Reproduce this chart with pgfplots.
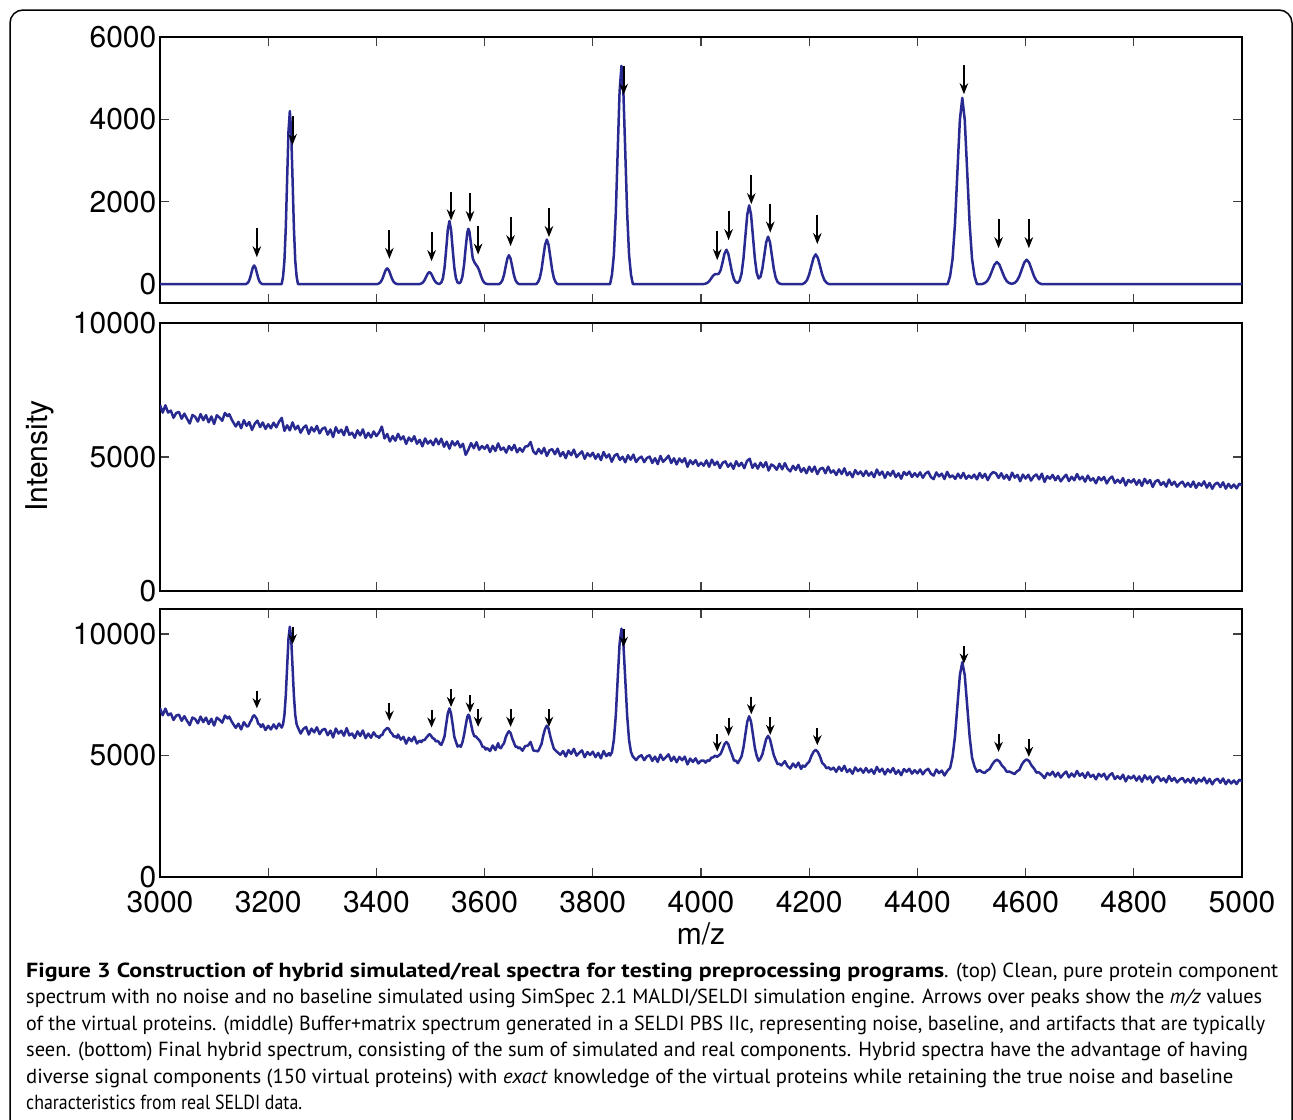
\documentclass[border=0pt]{standalone}
\usepackage{fontspec}
\setmainfont{TeX Gyre Heros}
\newfontfamily\capfont{PT Sans}
\usepackage{pgfplots}
\pgfplotsset{compat=1.18}
\usetikzlibrary{arrows.meta}

\definecolor{specblue}{RGB}{40,42,145}

\pgfplotsset{
  spec/.style={
    scale only axis, width=1082pt, anchor=north west,
    xmin=3000, xmax=5000, xtick={3000,3200,...,5000},
    axis line style={line width=1.8pt},
    every tick/.style={line width=1.2pt, black!75},
    major tick length=9pt,
    tick label style={font=\fontsize{30}{30}\selectfont, inner sep=1pt},
    yticklabel style={xshift=-2.5pt},
    /pgf/number format/assume math mode=true,
    /pgf/number format/1000 sep={},
    scaled y ticks=false,
  },
  trace/.style={specblue, line width=2.5pt, line join=round, mark=none},
}

\begin{document}
\begin{tikzpicture}
\useasboundingbox (0,0) rectangle (1293pt,-1119pt);
\begin{scope}
\clip (0,0) rectangle (1293pt,-1119pt);
\draw[line width=1.5pt, rounded corners=13pt] (10pt,-10pt) rectangle (1292pt,-1160pt);
\end{scope}

% ---- top: simulated protein spectrum
\begin{axis}[spec, at={(160pt,-37pt)}, height=266pt,
  ymin=-461, ymax=6000, ytick={0,2000,4000,6000}, xticklabel=\empty]
\addplot[trace] coordinates {
(3000,0) (3159,0) (3161.5,20) (3164,61) (3166.5,146) (3169,273) (3171.5,397) (3174,450) (3176.5,397) (3179,273) (3181.5,146) (3184,61) (3186.5,20) (3189,0)
(3225,0) (3227.5,184) (3230,568) (3232.5,1364) (3235,2547) (3237.5,3707) (3240,4200) (3242.5,3707) (3245,2547) (3247.5,1364) (3250,568) (3252.5,184) (3255,0)
(3402,0) (3405,17) (3408,51) (3411,123) (3414,230) (3417,335) (3420,380) (3423,335) (3426,230) (3429,123) (3432,51) (3435,17) (3438,0)
(3480,0) (3483,13) (3486,39) (3489,94) (3492,176) (3495,256) (3498,290) (3501,256) (3504,176) (3507,94) (3510,39) (3513,13) (3516,3)
(3517,7) (3520,37) (3523,142) (3526,401) (3529,844) (3532,1319) (3535,1530) (3538,1319) (3541,844) (3544,401) (3547,142) (3550,37) (3553,18) (3556,53) (3559,180) (3562,462) (3565,880) (3568,1250) (3570,1341) (3572,1273) (3575,956) (3578,632) (3581,530) (3584,470) (3587,417) (3590,332) (3593,209) (3596,103) (3599,39) (3602,11) (3605,0)
(3627,0) (3630,31) (3633,95) (3636,227) (3639,425) (3642,618) (3645,700) (3648,618) (3651,425) (3654,227) (3657,95) (3660,31) (3663,0)
(3695.5,0) (3698.75,47) (3702,146) (3705.25,351) (3708.5,655) (3711.75,953) (3715,1080) (3718.25,953) (3721.5,655) (3724.75,351) (3728,146) (3731.25,47) (3734.5,0)
(3832,0) (3835.5,233) (3839,717) (3842.5,1721) (3846,3214) (3849.5,4677) (3853,5300) (3856.5,4677) (3860,3214) (3863.5,1721) (3867,717) (3870.5,233) (3874,0)
(4005,0) (4008.5,10) (4012,31) (4015.5,75) (4019,139) (4022.5,205) (4026,239) (4029.5,239) (4033,251) (4036.5,345) (4040,534) (4043.5,742) (4047,833) (4050.5,732) (4054,503) (4057.5,270) (4061,113) (4064.5,40) (4068,30) (4071.5,86) (4075,258) (4078.5,620) (4082,1158) (4085.5,1686) (4089,1910) (4092.5,1686) (4096,1158) (4099.5,623) (4103,271) (4106.5,134) (4110,177) (4113.5,377) (4117,698) (4120.5,1015) (4124,1150) (4127.5,1015) (4131,697) (4134.5,373) (4138,156) (4141.5,50) (4145,13) (4148.5,0)
(4188,0) (4192,32) (4196,97) (4200,234) (4204,437) (4208,635) (4212,720) (4216,635) (4220,437) (4224,234) (4228,97) (4232,32) (4236,0)
(4456,0) (4460.5,198) (4465,612) (4469.5,1468) (4474,2741) (4478.5,3989) (4483,4520) (4487.5,3989) (4492,2741) (4496.5,1468) (4501,612) (4505.5,198) (4510,0)
(4520,0) (4524.5,23) (4529,72) (4533.5,174) (4538,324) (4542.5,472) (4547,535) (4551.5,472) (4556,324) (4560.5,174) (4565,72) (4569.5,23) (4574,6)
(4575,7) (4579.5,26) (4584,80) (4588.5,192) (4593,358) (4597.5,521) (4602,590) (4606.5,521) (4611,358) (4615.5,192) (4620,80) (4624.5,26) (4629,0) (5000,0)
};
% arrows over the virtual proteins
\addplot[black, line width=2pt, -{Stealth[length=11pt,width=8.5pt]},
  quiver={u=\thisrow{u}, v=\thisrow{v}}] table {
x y u v
3179 1350 0 -700
3245 4075 0 -700
3424 1310 0 -700
3502 1255 0 -700
3538 2245 0 -700
3573 2205 0 -700
3588 1415 0 -700
3648 1620 0 -700
3719 1840 0 -700
3857 5295 0 -700
4030 1280 0 -700
4051 1765 0 -700
4093 2640 0 -700
4128 1950 0 -700
4215 1670 0 -700
4486 5310 0 -700
4550 1570 0 -700
4606 1570 0 -700
};
\end{axis}

% ---- middle: buffer + matrix spectrum
\begin{axis}[spec, at={(160pt,-323pt)}, height=268pt,
  ymin=0, ymax=10000, ytick={0,5000,10000}, xticklabel=\empty]
\addplot[trace] coordinates {
(3000,6944) (3005,6657) (3010,6928) (3015,6659) (3020,6732) (3025,6463) (3030,6644) (3035,6681) (3040,6430)
(3045,6618) (3050,6428) (3055,6251) (3060,6565) (3065,6501) (3070,6324) (3075,6602) (3080,6376)
(3085,6561) (3090,6296) (3095,6512) (3100,6234) (3105,6558) (3110,6473) (3115,6352) (3120,6645) (3125,6524) (3128,6600) (3133,6380)
(3140,6139) (3145,6312) (3150,6073) (3155,6374) (3160,6166) (3165,6305) (3170,6012) (3175,6236) (3180,6357) (3185,6118) (3190,6288) (3195,6049) (3200,6224)
(3205,6072) (3210,6279) (3215,6109) (3220,6316) (3225,6458) (3230,5975) (3235,6183) (3240,5994) (3245,6292) (3250,6031) (3255,6167) (3260,5906) (3265,6096) (3270,6177) (3275,5863) (3280,6106) (3285,5954) (3290,6161) (3295,5883) (3300,6054)
(3305,6098) (3310,5836) (3315,6024) (3320,5744) (3325,6112) (3330,5904) (3335,6020) (3340,5812) (3345,6126) (3350,5828) (3355,5908) (3360,5718) (3365,5996) (3370,5806) (3375,6030) (3380,5714) (3385,5902) (3390,5730) (3395,5954) (3400,5782)
(3405,5914) (3410,6136) (3415,5692) (3420,5860) (3425,5578) (3430,5782) (3435,5608) (3440,5866) (3445,5656) (3450,5770) (3455,5488) (3460,5728) (3465,5590) (3470,5776) (3475,5494) (3480,5644) (3485,5398) (3490,5692) (3495,5500) (3500,5614)
(3505,5442) (3510,5684) (3515,5476) (3520,5682) (3525,5384) (3530,5572) (3535,5310) (3540,5588) (3545,5434) (3550,5586) (3555,5360) (3560,5494) (3565,5080) (3570,5276) (3575,5518) (3580,5328) (3585,5552) (3590,5272) (3595,5406) (3600,5306)
(3605,5444) (3610,5185) (3615,5413) (3620,5226) (3625,5508) (3630,5267) (3635,5351) (3640,5164) (3645,5410) (3650,5259) (3655,5451) (3660,5174) (3665,5330) (3670,5197) (3675,5389) (3680,5406) (3685,5560) (3690,5207) (3695,5111) (3700,5302)
(3705,5131) (3710,5338) (3715,5041) (3720,5248) (3725,5293) (3730,5104) (3735,5311) (3740,5032) (3745,5185) (3750,4960) (3755,5221) (3760,5068) (3765,5275) (3770,4996) (3775,5113) (3780,5212) (3785,4933) (3790,5140) (3795,5023) (3800,5158)
(3805,4935) (3810,5108) (3815,4885) (3820,5184) (3825,4979) (3830,5098) (3835,4821) (3840,5048) (3845,5113) (3850,4890) (3855,5009) (3860,4804) (3865,5067) (3870,4898) (3875,5089) (3880,4812) (3885,4949) (3890,5014) (3895,4809) (3900,4964)
(3905,5015) (3910,4778) (3915,4955) (3920,4736) (3925,5039) (3930,4820) (3935,4925) (3940,5048) (3945,4775) (3950,4952) (3955,4723) (3960,4944) (3965,4805) (3970,4954) (3975,4635) (3980,4874) (3985,4735) (3990,4884) (3995,4673) (4000,4786)
(4005,4676) (4010,4871) (4015,4635) (4020,4902) (4025,4702) (4030,4825) (4035,4589) (4040,4784) (4045,4836) (4050,4635) (4055,4759) (4060,4558) (4065,4844) (4070,4661) (4075,4785) (4080,4584) (4085,4852) (4090,4935) (4095,4595) (4100,4754)
(4105,4566) (4110,4791) (4115,4621) (4120,4810) (4125,4496) (4130,4721) (4135,4659) (4140,4524) (4145,4750) (4150,4543) (4155,4769) (4160,4562) (4165,4464) (4170,4671) (4175,4519) (4180,4708) (4185,4448) (4190,4583) (4195,4395) (4200,4638)
(4205,4451) (4210,4641) (4215,4364) (4220,4554) (4225,4601) (4230,4395) (4235,4640) (4240,4416) (4245,4499) (4250,4329) (4255,4538) (4260,4368) (4265,4577) (4270,4317) (4275,4436) (4280,4248) (4285,4511) (4290,4359) (4295,4460) (4300,4290)
(4305,4486) (4310,4304) (4315,4428) (4320,4246) (4325,4532) (4330,4332) (4335,4456) (4340,4220) (4345,4434) (4350,4306) (4355,4484) (4360,4248) (4365,4390) (4370,4190) (4375,4440) (4380,4330) (4385,4454) (4390,4254) (4395,4396) (4400,4268)
(4405,4427) (4410,4225) (4415,4384) (4420,4452) (4425,4251) (4430,4175) (4435,4424) (4440,4276) (4445,4381) (4450,4179) (4455,4446) (4460,4244) (4465,4313) (4470,4183) (4475,4378) (4480,4212) (4485,4407) (4490,4187) (4495,4310) (4500,4216)
(4505,4344) (4510,4166) (4515,4402) (4520,4224) (4525,4370) (4530,4138) (4535,4338) (4540,4436) (4545,4396) (4550,4218)
(4555,4394) (4560,4192) (4565,4332) (4570,4148) (4575,4414) (4580,4230) (4585,4334) (4590,4096) (4595,4344) (4600,4196)
(4605,4338) (4610,4119) (4615,4279) (4620,4348) (4625,4166) (4630,4379) (4635,4071) (4640,4284) (4645,4192) (4650,4333) (4655,4133) (4660,4292) (4665,4092) (4670,4233) (4675,4339) (4680,4102) (4685,4262) (4690,4133) (4695,4365) (4700,4164)
(4705,4266) (4710,4080) (4715,4308) (4720,4122) (4725,4206) (4730,4020) (4735,4248) (4740,4134) (4745,4254) (4750,4014) (4755,4188) (4760,4272) (4765,4032) (4770,4152) (4775,4038) (4780,4212) (4785,3936) (4790,4146) (4795,4050) (4800,4170)
(4805,3967) (4810,4142) (4815,3921) (4820,4186) (4825,4019) (4830,4140) (4835,3883) (4840,4094) (4845,4143) (4850,3958) (4855,4061) (4860,3894) (4865,4159) (4870,3956) (4875,4077) (4880,3892) (4885,4013) (4890,4080) (4895,3895) (4900,4034)
(4905,3888) (4910,4083) (4915,3847) (4920,4024) (4925,3932) (4930,4091) (4935,3855) (4940,4032) (4945,3814) (4950,3991) (4955,4043) (4960,3878) (4965,4056) (4970,3819) (4975,3997) (4980,3850) (4985,3974) (4990,3827) (4995,4005) (5000,3948)
};
\end{axis}

% ---- bottom: hybrid spectrum
\begin{axis}[spec, at={(160pt,-609pt)}, height=268pt,
  ymin=0, ymax=11030, ytick={0,5000,10000},
  xticklabel style={yshift=-13.5pt}]
\addplot[trace] coordinates {
(3000,6944) (3005,6657) (3010,6928) (3015,6659) (3020,6732) (3025,6463) (3030,6644) (3035,6681) (3040,6430)
(3045,6618) (3050,6428) (3055,6251) (3060,6565) (3065,6501) (3070,6324) (3075,6602) (3080,6376)
(3085,6561) (3090,6296) (3095,6512) (3100,6234) (3105,6558) (3110,6473) (3115,6352) (3120,6645) (3125,6524) (3128,6600) (3133,6380)
(3140,6139) (3145,6312) (3150,6073) (3155,6374)
(3159,6240) (3161.5,6190) (3164,6235) (3166.5,6370) (3169,6457) (3171.5,6601) (3174,6654) (3176.5,6591) (3179,6507) (3181.5,6310) (3184,6285) (3186.5,6174) (3189,6229)
(3190,6288) (3195,6049) (3200,6224) (3205,6072) (3210,6279) (3215,6109) (3220,6316)
(3225,6150) (3227.5,6290) (3230,6670) (3232.5,7466) (3235,8649) (3237.5,9809) (3240,10302) (3242.5,9809) (3245,8649) (3247.5,7466) (3250,6670) (3252.5,6286) (3255,6149)
(3260,5906) (3265,6096) (3270,6177) (3275,5863) (3280,6106) (3285,5954) (3290,6161) (3295,5883) (3300,6054)
(3305,6098) (3310,5836) (3315,6024) (3320,5744) (3325,6112) (3330,5904) (3335,6020) (3340,5812) (3345,6126) (3350,5828) (3355,5908) (3360,5718) (3365,5996) (3370,5806) (3375,6030) (3380,5714) (3385,5902) (3390,5730) (3395,5954) (3400,5782)
(3402,5800) (3405,5730) (3408,5830) (3411,5850) (3414,6010) (3417,6070) (3420,6132) (3423,6100) (3426,5960) (3429,5900) (3432,5780) (3435,5790) (3438,5730)
(3440,5866) (3445,5656) (3450,5770) (3455,5488) (3460,5728) (3465,5590) (3470,5776) (3475,5494)
(3480,5613) (3483,5553) (3486,5639) (3489,5634) (3492,5726) (3495,5806) (3498,5880) (3501,5816) (3504,5716) (3507,5684) (3510,5579) (3513,5603) (3516,5543)
(3517,5483) (3520,5437) (3523,5596) (3526,5799) (3529,6286) (3532,6735) (3535,6940) (3538,6723) (3541,6272) (3544,5773) (3547,5568) (3550,5367) (3553,5422) (3556,5361) (3559,5542) (3562,5838) (3565,6230) (3568,6594) (3570,6681) (3572,6609) (3575,6286) (3578,5976) (3581,5789) (3584,5784) (3587,5703) (3590,5632) (3593,5533) (3596,5361) (3599,5361) (3602,5247) (3605,5303)
(3610,5185) (3615,5413) (3620,5226) (3625,5508)
(3627,5340) (3630,5300) (3633,5420) (3636,5510) (3639,5750) (3642,5900) (3645,6002) (3648,5930) (3651,5710) (3654,5540) (3657,5370) (3660,5360) (3663,5290)
(3665,5330) (3670,5197) (3675,5389) (3680,5406) (3685,5560) (3690,5207)
(3695.5,5190) (3698.75,5170) (3702,5320) (3705.25,5480) (3708.5,5830) (3711.75,6090) (3715,6230) (3718.25,6110) (3721.5,5790) (3724.75,5520) (3728,5280) (3731.25,5210) (3734.5,5140)
(3740,5032) (3745,5185) (3750,4960) (3755,5221) (3760,5068) (3765,5275) (3770,4996) (3775,5113) (3780,5212) (3785,4933) (3790,5140) (3795,5023) (3800,5158)
(3805,4935) (3810,5108) (3815,4885) (3820,5184) (3825,4979) (3830,5098)
(3832,5000) (3835.5,5140) (3839,5660) (3842.5,6640) (3846,8150) (3849.5,9600) (3853,10220) (3856.5,9610) (3860,8140) (3863.5,6640) (3867,5640) (3870.5,5150) (3874,4960)
(3880,4812) (3885,4949) (3890,5014) (3895,4809) (3900,4964)
(3905,5015) (3910,4778) (3915,4955) (3920,4736) (3925,5039) (3930,4820) (3935,4925) (3940,5048) (3945,4775) (3950,4952) (3955,4723) (3960,4944) (3965,4805) (3970,4954) (3975,4635) (3980,4874) (3985,4735) (3990,4884) (3995,4673) (4000,4786)
(4005,4791) (4008.5,4706) (4012,4805) (4015.5,4777) (4019,4910) (4022.5,4924) (4026,4996) (4029.5,4944) (4033,5005) (4036.5,5077) (4040,5264) (4043.5,5470) (4047,5560) (4050.5,5457) (4054,5226) (4057.5,5021) (4061,4793) (4064.5,4788) (4068,4686) (4071.5,4820) (4075,4971) (4078.5,5331) (4082,5867) (4085.5,6393) (4089,6616) (4092.5,6390) (4096,5860) (4099.5,5323) (4103,4986) (4106.5,4783) (4110,4880) (4113.5,5054) (4117,5369) (4120.5,5680) (4124,5809) (4127.5,5668) (4131,5344) (4134.5,5014) (4138,4821) (4141.5,4649) (4145,4657) (4148.5,4591)
(4155,4769) (4160,4562) (4165,4464) (4170,4671) (4175,4519) (4180,4708) (4185,4448)
(4188,4586) (4192,4534) (4196,4663) (4200,4744) (4204,4981) (4208,5153) (4212,5232) (4216,5141) (4220,4957) (4224,4698) (4228,4615) (4232,4474) (4236,4514)
(4240,4416) (4245,4499) (4250,4329) (4255,4538) (4260,4368) (4265,4577) (4270,4317) (4275,4436) (4280,4248) (4285,4511) (4290,4359) (4295,4460) (4300,4290)
(4305,4486) (4310,4304) (4315,4428) (4320,4246) (4325,4532) (4330,4332) (4335,4456) (4340,4220) (4345,4434) (4350,4306) (4355,4484) (4360,4248) (4365,4390) (4370,4190) (4375,4440) (4380,4330) (4385,4454) (4390,4254) (4395,4396) (4400,4268)
(4405,4427) (4410,4225) (4415,4384) (4420,4452) (4425,4251) (4430,4175) (4435,4424) (4440,4276) (4445,4381) (4450,4179)
(4456,4390) (4460.5,4488) (4465,4952) (4469.5,5788) (4474,7061) (4478.5,8309) (4483,8840) (4487.5,8309) (4492,7061) (4496.5,5788) (4501,4912) (4505.5,4548) (4510,4330)
(4515,4402)
(4520,4316) (4524.5,4283) (4529,4382) (4533.5,4444) (4538,4624) (4542.5,4762) (4547,4825) (4551.5,4762) (4556,4594) (4560.5,4494) (4565,4332) (4569.5,4343)
(4575,4287) (4579.5,4236) (4584,4350) (4588.5,4412) (4593,4628) (4597.5,4771) (4602,4840) (4606.5,4771) (4611,4588) (4615.5,4472) (4620,4300) (4624.5,4306) (4629,4227)
(4635,4071) (4640,4284) (4645,4192) (4650,4333) (4655,4133) (4660,4292) (4665,4092) (4670,4233) (4675,4339) (4680,4102) (4685,4262) (4690,4133) (4695,4365) (4700,4164)
(4705,4266) (4710,4080) (4715,4308) (4720,4122) (4725,4206) (4730,4020) (4735,4248) (4740,4134) (4745,4254) (4750,4014) (4755,4188) (4760,4272) (4765,4032) (4770,4152) (4775,4038) (4780,4212) (4785,3936) (4790,4146) (4795,4050) (4800,4170)
(4805,3967) (4810,4142) (4815,3921) (4820,4186) (4825,4019) (4830,4140) (4835,3883) (4840,4094) (4845,4143) (4850,3958) (4855,4061) (4860,3894) (4865,4159) (4870,3956) (4875,4077) (4880,3892) (4885,4013) (4890,4080) (4895,3895) (4900,4034)
(4905,3888) (4910,4083) (4915,3847) (4920,4024) (4925,3932) (4930,4091) (4935,3855) (4940,4032) (4945,3814) (4950,3991) (4955,4043) (4960,3878) (4965,4056) (4970,3819) (4975,3997) (4980,3850) (4985,3974) (4990,3827) (4995,4005) (5000,3948)
};
\addplot[black, line width=2pt, -{Stealth[length=10pt,width=8.5pt]},
  quiver={u=\thisrow{u}, v=\thisrow{v}}] table {
x y u v
3179 7666 0 -720
3245 10300 0 -720
3424 7147 0 -720
3502 6872 0 -720
3538 7720 0 -720
3573 7489 0 -720
3588 6900 0 -720
3648 6900 0 -720
3719 6900 0 -720
3857 10192 0 -720
4030 5884 0 -720
4051 6530 0 -720
4093 7420 0 -720
4128 6570 0 -720
4215 6144 0 -720
4486 9506 0 -720
4550 5871 0 -720
4606 5666 0 -720
};
\end{axis}

% axis titles
\node[rotate=90, font=\fontsize{30}{30}\selectfont] at (40pt,-456pt) {Intensity};
\node[font=\fontsize{30}{30}\selectfont] at (701pt,-934pt) {m/z};

% caption, each line set to the width it has in the figure
\begin{scope}[every node/.style={anchor=base west, inner sep=0pt, font=\capfont\fontsize{20.4}{21}\selectfont}]
\node at (26pt,-977pt) {\resizebox{1252pt}{\height}{\scalebox{1.15}[1]{\textbf{Figure 3 Construction of hybrid simulated/real spectra for testing preprocessing programs}}. (top) Clean, pure protein component}};
\node at (26pt,-1003.5pt) {\resizebox{1236pt}{\height}{spectrum with no noise and no baseline simulated using SimSpec 2.1 MALDI/SELDI simulation engine. Arrows over peaks show the \textit{m/z} values}};
\node at (26pt,-1030pt) {\resizebox{1239pt}{\height}{of the virtual proteins. (middle) Buffer+matrix spectrum generated in a SELDI PBS IIc, representing noise, baseline, and artifacts that are typically}};
\node at (26pt,-1056.5pt) {\resizebox{1222pt}{\height}{seen. (bottom) Final hybrid spectrum, consisting of the sum of simulated and real components. Hybrid spectra have the advantage of having}};
\node at (26pt,-1083pt) {\resizebox{1207pt}{\height}{diverse signal components (150 virtual proteins) with \textit{exact} knowledge of the virtual proteins while retaining the true noise and baseline}};
\node at (26pt,-1109.5pt) {\resizebox{276pt}{\height}{characteristics from real SELDI data.}};
\end{scope}
\end{tikzpicture}
\end{document}
